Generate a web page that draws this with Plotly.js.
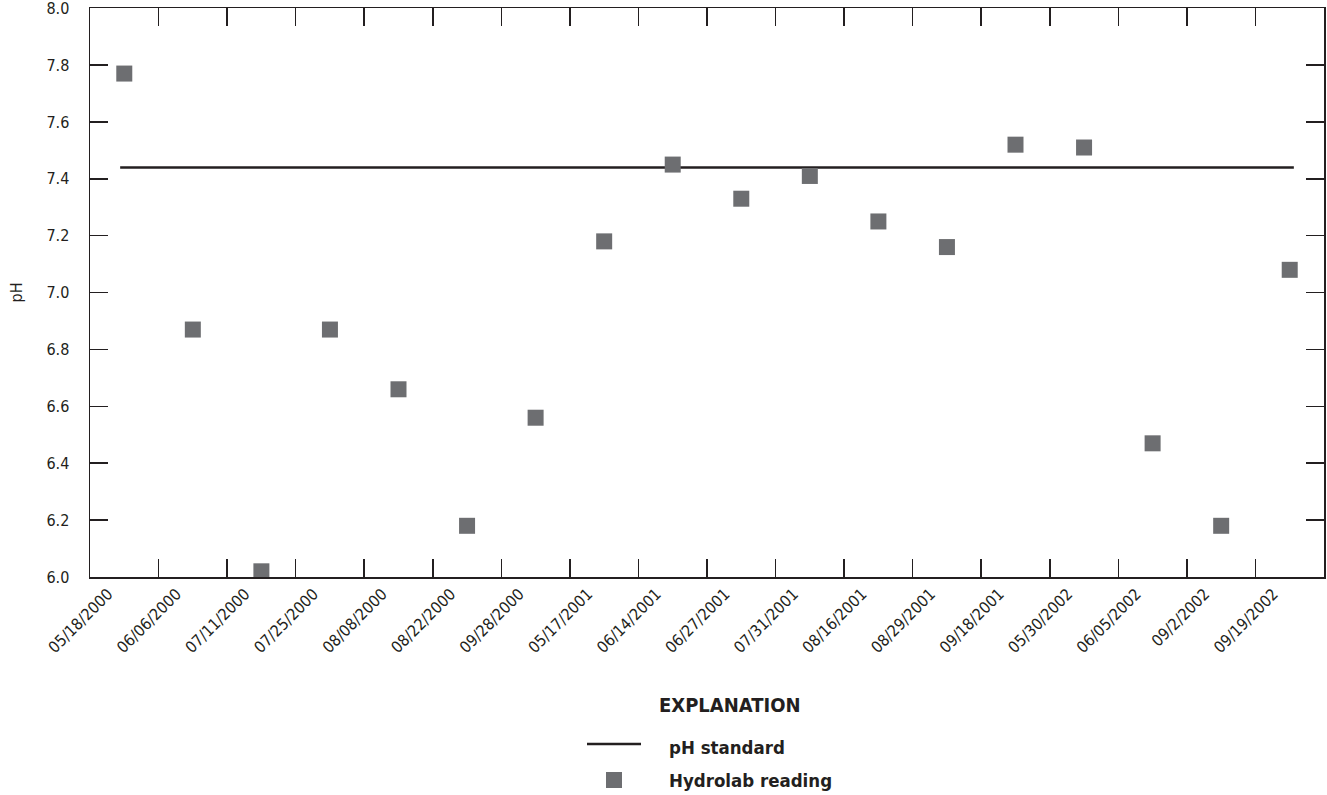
<!DOCTYPE html>
<html>
<head>
<meta charset="utf-8">
<script src="https://cdn.plot.ly/plotly-3.0.1.min.js"></script>
<style>
  html, body { margin: 0; padding: 0; background: #fff; }
  #chart { width: 1327px; height: 795px; }
</style>
</head>
<body>
<div id="chart"></div>
<script>
// Sampling dates (categorical tick labels)
const dates = ["05/18/2000","06/06/2000","07/11/2000","07/25/2000","08/08/2000","08/22/2000",
  "09/28/2000","05/17/2001","06/14/2001","06/27/2001","07/31/2001","08/16/2001",
  "08/29/2001","09/18/2001","05/30/2002","06/05/2002","09/2/2002","09/19/2002"];
// Hydrolab pH readings
const phReadings = [7.77, 6.87, 6.02, 6.87, 6.66, 6.18, 6.56, 7.18, 7.45,
  7.33, 7.41, 7.25, 7.16, 7.52, 7.51, 6.47, 6.18, 7.08];
// pH standard
const phStandard = 7.44;
// y-axis tick values
const yTicks = [6.0, 6.2, 6.4, 6.6, 6.8, 7.0, 7.2, 7.4, 7.6, 7.8, 8.0];

const FONT = '"DejaVu Sans Condensed", "Liberation Sans Narrow", sans-serif';
const INK = '#231f20';
const GRAY = '#6d6e71';

const tickPos = dates.map((d, i) => i);
const pointPos = dates.map((d, i) => i + 0.5);

const traces = [
  {
    x: [pointPos[0] - 0.06, pointPos[pointPos.length - 1] + 0.06],
    y: [phStandard, phStandard],
    mode: 'lines',
    line: { color: INK, width: 2.5 },
    name: 'pH standard',
    showlegend: false,
    hoverinfo: 'skip'
  },
  {
    x: pointPos,
    y: phReadings,
    mode: 'markers',
    marker: { symbol: 'square', size: 16, color: GRAY, line: { width: 0 } },
    name: 'Hydrolab reading',
    text: dates,
    showlegend: false
  }
];

// paper coordinate helpers for the explanation block
const L = 90, T = 8, W = 1234, H = 569;
const px = v => (v - L) / W;
const py = v => (T + H - v) / H;

const layout = {
  width: 1327, height: 795,
  margin: { l: L, r: 1327 - L - W, t: T, b: 795 - T - H, pad: 0 },
  paper_bgcolor: '#fff', plot_bgcolor: '#fff',
  font: { family: FONT, size: 16, color: INK },
  showlegend: false,
  xaxis: {
    range: [0, dates.length],
    tickmode: 'array',
    tickvals: tickPos,
    ticktext: dates,
    tickangle: -45,
    ticklabelshift: 18,
    ticks: 'inside', ticklen: 18, tickwidth: 1.5, tickcolor: INK,
    showline: true, linewidth: 1.5, linecolor: INK,
    mirror: 'ticks',
    showgrid: false, zeroline: false,
    tickfont: { family: FONT, size: 16, color: INK },
    fixedrange: true
  },
  yaxis: {
    range: [6, 8.0005],
    tickmode: 'array',
    tickvals: yTicks,
    ticktext: yTicks.map(v => v.toFixed(1)),
    ticks: 'inside', ticklen: 18, tickwidth: 1.5, tickcolor: INK,
    showline: true, linewidth: 1.5, linecolor: INK,
    mirror: 'ticks',
    showgrid: false, zeroline: false,
    ticklabelstandoff: 16,
    ticklabeloverflow: 'allow',
    tickfont: { family: FONT, size: 16, color: INK },
    title: { text: 'pH', font: { family: FONT, size: 16, color: INK }, standoff: 20 },
    fixedrange: true
  },
  shapes: [
    { type: 'line', xref: 'paper', yref: 'paper', x0: px(587), x1: px(641), y0: py(744), y1: py(744),
      line: { color: INK, width: 2.5 } },
    { type: 'rect', xref: 'paper', yref: 'paper', x0: px(606), x1: px(622), y0: py(772), y1: py(788),
      fillcolor: GRAY, line: { width: 0 } }
  ],
  annotations: [
    { xref: 'paper', yref: 'paper', x: px(730), y: py(705), xanchor: 'center', yanchor: 'middle',
      text: '<b>EXPLANATION</b>', showarrow: false, font: { family: FONT, size: 20, color: INK } },
    { xref: 'paper', yref: 'paper', x: px(667), y: py(747), xanchor: 'left', yanchor: 'middle',
      text: '<b>pH standard</b>', showarrow: false, font: { family: FONT, size: 18.5, color: INK } },
    { xref: 'paper', yref: 'paper', x: px(667), y: py(780), xanchor: 'left', yanchor: 'middle',
      text: '<b>Hydrolab reading</b>', showarrow: false, font: { family: FONT, size: 18.5, color: INK } }
  ]
};

Plotly.newPlot('chart', traces, layout, { displayModeBar: false, staticPlot: true });
</script>
</body>
</html>
